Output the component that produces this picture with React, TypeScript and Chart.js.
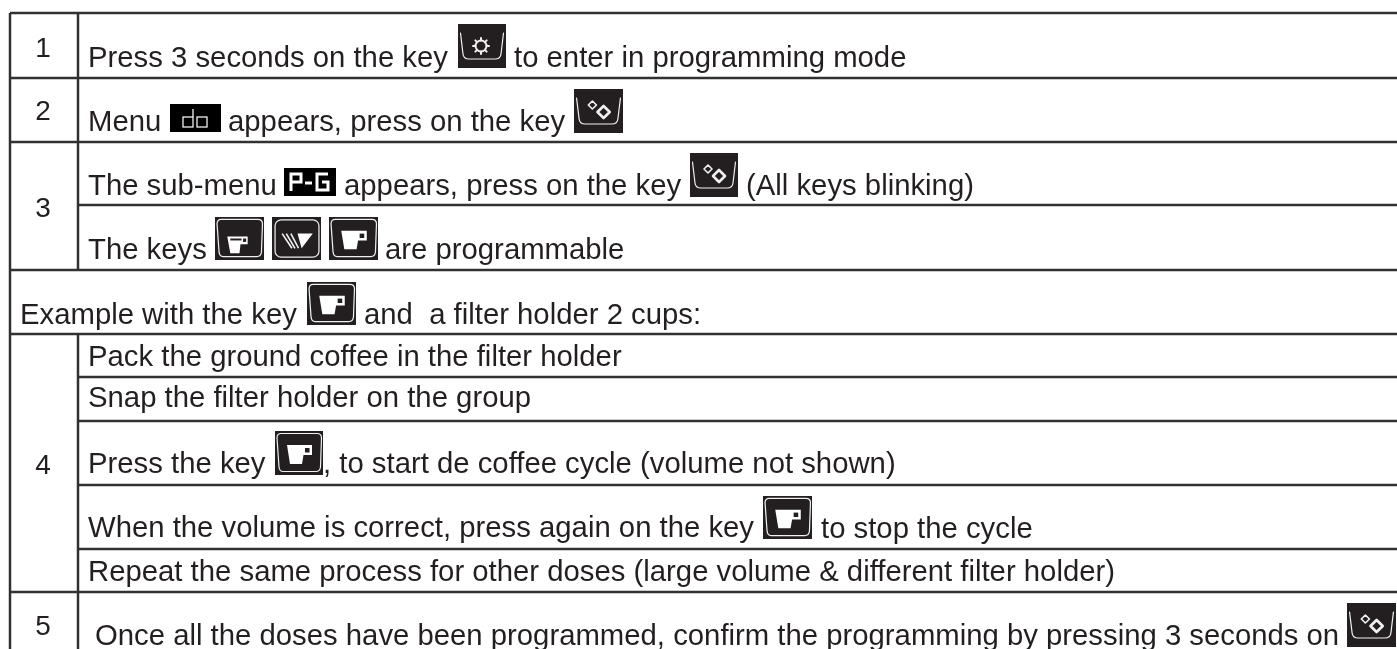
import React, { useEffect, useRef } from "react";
import { Chart, registerables } from "chart.js";

Chart.register(...registerables);

const W = 1397;
const H = 649;
const INK = "#231f20";

// table structure (values on the page-sized scales)
const fullRows = [13, 78, 142, 270, 334, 592];
const innerRows = [205, 377, 421, 485, 549];
const columnEdges = [10, 78];
const dividerSpans = [[13, 270], [334, 649]];

// row numbers
const rowNumbers = ["1", "2", "3", "4", "5"];
const rowNumberY = [57, 120, 217, 474, 635];

// text
const texts = [
  "Press 3 seconds on the key",
  "to enter in programming mode",
  "Menu",
  "appears, press on the key",
  "The sub-menu",
  "appears, press on the key",
  "(All keys blinking)",
  "The keys",
  "are programmable",
  "Example with the key",
  "and  a filter holder 2 cups:",
  "Pack the ground coffee in the filter holder",
  "Snap the filter holder on the group",
  "Press the key",
  ", to start de coffee cycle (volume not shown)",
  "When the volume is correct, press again on the key",
  "to stop the cycle",
  "Repeat the same process for other doses (large volume & different filter holder)",
  "Once all the doses have been programmed, confirm the programming by pressing 3 seconds on",
];
const textX = [88, 514, 88, 228, 88, 344, 746, 88, 385, 20, 364, 88, 88, 88, 323, 88, 821, 88, 95];
const textY = [67, 67, 131, 131, 195, 195, 195, 259, 259, 324, 324, 366, 407, 473, 473, 537, 538, 581, 645];

// icons
const iconKinds = ["gear", "do", "sparkle", "prg", "sparkle", "cupSmall", "filter", "cupLarge", "cupLarge", "cupLarge", "cupLarge", "sparkle"];
const iconLeft = [458, 170, 574, 284, 690, 215, 272, 329, 307, 275, 763, 1347];
const iconTop = [24, 104, 89, 168, 153, 217, 217, 217, 282, 431, 496, 603];
const iconRight = [506, 221, 623, 336, 738, 264, 321, 378, 356, 323, 812, 1396];
const iconBottom = [68, 132, 133, 196, 197, 260, 260, 260, 325, 475, 539, 647];

function poly(c: CanvasRenderingContext2D, pts: number[][], close = true) {
  c.beginPath();
  pts.forEach(([x, y], i) => (i ? c.lineTo(x, y) : c.moveTo(x, y)));
  if (close) c.closePath();
}

function diamond(c: CanvasRenderingContext2D, x: number, y: number, r: number) {
  poly(c, [[x, y - r], [x + r, y], [x, y + r], [x - r, y]]);
}

function cupFrame(c: CanvasRenderingContext2D) {
  c.lineWidth = 1.2;
  c.beginPath();
  c.moveTo(6, 2.5);
  c.lineTo(42, 2.5);
  c.quadraticCurveTo(46.5, 2.5, 46.5, 7);
  c.lineTo(45.5, 36);
  c.quadraticCurveTo(45, 40.5, 41, 40.5);
  c.lineTo(8, 40.5);
  c.quadraticCurveTo(4.5, 40.5, 4, 36);
  c.lineTo(2, 7);
  c.quadraticCurveTo(2, 2.5, 6, 2.5);
  c.closePath();
  c.stroke();
}

function drawIcon(c: CanvasRenderingContext2D, kind: string, x0: number, y0: number, x1: number, y1: number) {
  const w = x1 - x0;
  const h = y1 - y0;
  c.save();
  c.fillStyle = kind === "do" || kind === "prg" ? "#000" : "#231f20";
  c.fillRect(x0, y0, w, h);
  c.translate(x0, y0);
  if (kind === "do") {
    c.strokeStyle = "#f0f0f0";
    c.lineWidth = 1.3;
    c.strokeRect(13, 13, 10, 10);
    c.strokeRect(27, 13, 10, 10);
    poly(c, [[23, 13], [23, 5]], false);
    c.stroke();
    c.restore();
    return;
  }
  if (kind === "prg") {
    c.strokeStyle = "#fff";
    c.lineWidth = 3;
    c.lineCap = "butt";
    poly(c, [[7, 23], [7, 6], [17, 6], [17, 14], [7, 14]], false);
    c.stroke();
    poly(c, [[21, 15], [28, 15]], false);
    c.stroke();
    poly(c, [[44, 6], [33, 6], [33, 22], [44, 22], [44, 14], [38, 14]], false);
    c.stroke();
    c.restore();
    return;
  }
  c.scale(w / 48, h / 44);
  c.strokeStyle = "#f0f0f0";
  c.fillStyle = "#fff";
  c.lineCap = "round";
  c.lineJoin = "round";
  if (kind === "gear" || kind === "sparkle") {
    c.lineWidth = 1.2;
    c.beginPath();
    c.moveTo(2.5, 9);
    c.lineTo(5, 30);
    c.quadraticCurveTo(5.5, 35, 11, 35);
    c.lineTo(37, 35);
    c.quadraticCurveTo(42.5, 35, 43, 30);
    c.lineTo(45.5, 9);
    c.stroke();
  }
  if (kind === "gear") {
    c.lineWidth = 2;
    c.beginPath();
    c.arc(23, 22, 5.5, 0, Math.PI * 2);
    c.stroke();
    for (let i = 0; i < 8; i++) {
      const a = (i * Math.PI) / 4;
      c.beginPath();
      c.moveTo(23 + Math.cos(a) * 5.5, 22 + Math.sin(a) * 5.5);
      c.lineTo(23 + Math.cos(a) * 8, 22 + Math.sin(a) * 8);
      c.stroke();
    }
  }
  if (kind === "sparkle") {
    diamond(c, 18, 16, 4);
    c.lineWidth = 1.6;
    c.stroke();
    diamond(c, 29, 23, 6);
    c.lineWidth = 2.6;
    c.stroke();
  }
  if (kind === "filter") {
    c.lineWidth = 1.2;
    c.beginPath();
    c.roundRect(3, 3, 43, 38, 6);
    c.stroke();
    poly(c, [[25, 17], [40, 17], [29, 32]]);
    c.fill();
    c.lineWidth = 1.6;
    c.lineCap = "butt";
    [[10, 19.5], [14, 22.5], [18.5, 26]].forEach(([a, b]) => {
      poly(c, [[a, 17], [b, 32]], false);
      c.stroke();
    });
  }
  if (kind === "cupSmall") {
    cupFrame(c);
    poly(c, [[12, 20], [32, 20], [32, 28], [25, 28], [24, 37], [15, 37]]);
    c.fill();
    c.fillStyle = INK;
    c.fillRect(15, 22, 11, 2);
    c.fillRect(27.5, 22, 3, 3.5);
  }
  if (kind === "cupLarge") {
    cupFrame(c);
    poly(c, [[12, 14], [37, 14], [37, 24], [28.5, 24], [27, 33], [15, 33]]);
    c.fill();
    c.fillStyle = INK;
    c.fillRect(30, 17, 4.5, 4.5);
  }
  c.restore();
}

const tablePlugin = {
  id: "tableText",
  afterDatasetsDraw(chart: any) {
    const c: CanvasRenderingContext2D = chart.ctx;
    const sx = chart.scales.x;
    const sy = chart.scales.y;
    c.save();
    c.fillStyle = INK;
    c.font = '29.3px "Liberation Sans"';
    c.textBaseline = "alphabetic";
    c.textAlign = "left";
    texts.forEach((t, i) => c.fillText(t, sx.getPixelForValue(textX[i]), sy.getPixelForValue(textY[i])));
    c.font = '28px "Liberation Sans"';
    c.textAlign = "center";
    rowNumbers.forEach((t, i) => c.fillText(t, sx.getPixelForValue(43), sy.getPixelForValue(rowNumberY[i])));
    iconKinds.forEach((k, i) =>
      drawIcon(c, k, sx.getPixelForValue(iconLeft[i]), sy.getPixelForValue(iconTop[i]), sx.getPixelForValue(iconRight[i]), sy.getPixelForValue(iconBottom[i]))
    );
    c.restore();
  },
};

function lineSet(points: { x: number; y: number }[], color: string, width: number) {
  return { type: "scatter" as const, data: points, showLine: true, borderColor: color, borderWidth: width, pointRadius: 0, fill: false };
}

export default function App() {
  const ref = useRef<HTMLCanvasElement>(null);
  useEffect(() => {
    if (!ref.current) return;
    const datasets: any[] = [
      ...fullRows.map((y) => lineSet([{ x: columnEdges[0], y }, { x: W, y }], "#333031", 2.5)),
      ...innerRows.map((y) => lineSet([{ x: columnEdges[1], y }, { x: W, y }], "#333031", 2.5)),
      lineSet([{ x: columnEdges[0], y: 13 }, { x: columnEdges[0], y: H }], "#333031", 2.5),
      ...dividerSpans.map(([a, b]) => lineSet([{ x: columnEdges[1], y: a }, { x: columnEdges[1], y: b }], "#333031", 2.5)),
    ];
    const chart = new Chart(ref.current, {
      type: "scatter",
      data: { datasets },
      options: {
        animation: false,
        responsive: false,
        layout: { padding: 0 },
        plugins: { legend: { display: false }, tooltip: { enabled: false } },
        scales: {
          x: { type: "linear", min: 0, max: W, display: false },
          y: { type: "linear", min: 0, max: H, reverse: true, display: false },
        },
      },
      plugins: [tablePlugin],
    });
    return () => chart.destroy();
  }, []);
  return (
    <div style={{ position: "absolute", left: 0, top: 0, width: W, height: H, background: "#fff" }}>
      <canvas ref={ref} width={W} height={H} style={{ display: "block" }} />
    </div>
  );
}
